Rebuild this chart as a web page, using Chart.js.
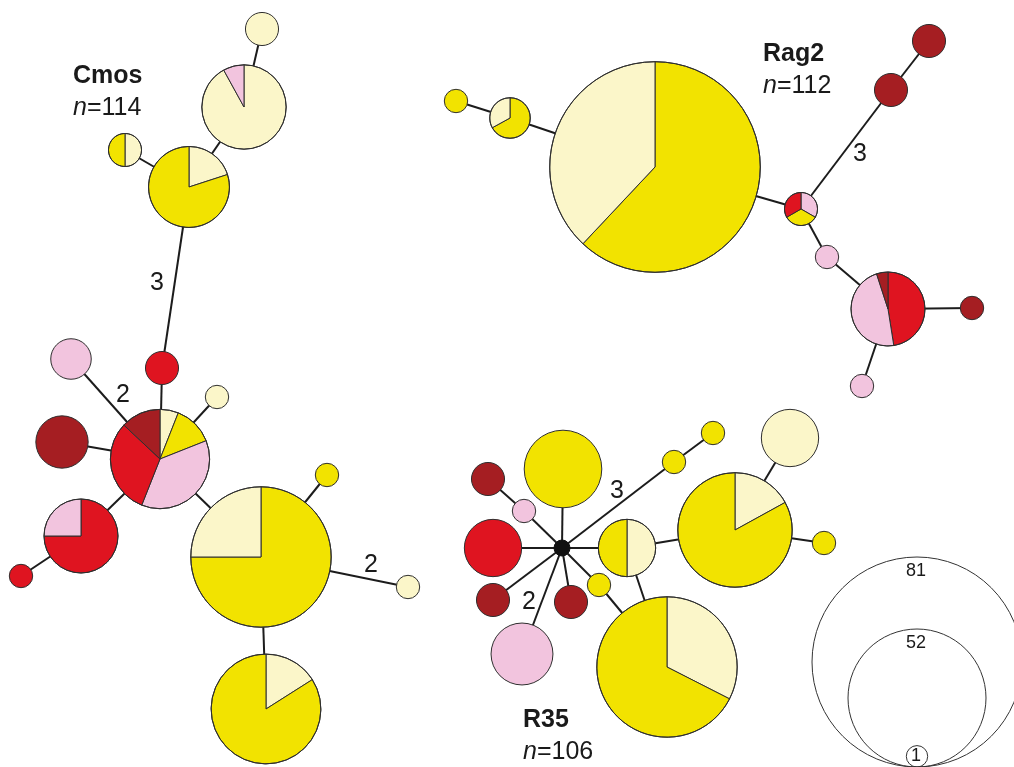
<!DOCTYPE html>
<html>
<head>
<meta charset="utf-8">
<script src="https://cdn.jsdelivr.net/npm/chart.js@4.4.1/dist/chart.umd.min.js"></script>
<style>
  html, body { margin: 0; padding: 0; background: #fff; }
  #wrap { width: 1014px; height: 767px; position: relative; }
</style>
</head>
<body>
<div id="wrap"><canvas id="net"></canvas></div>
<script>
// --- Data ---

// Slice colours per haplogroup (MV = median vector)
const groupColors = { Y: '#f2e300', LY: '#fbf6c9', P: '#f2c4de', R: '#df1420', DR: '#a51e22', MV: '#111111' };

// Cmos network: layout position, haplotype count, composition (% clockwise from 12 o'clock)
const cmosX = [262, 244, 125, 189, 162, 71, 217, 160, 62, 81, 21, 261, 327, 408, 266];
const cmosY = [29, 107, 150, 187, 368, 359, 397, 459, 442, 536, 576, 557, 475, 587, 709];
const cmosCount = [2, 13, 2, 12, 2, 3, 1, 18, 5, 10, 1, 36, 1, 1, 22];
const cmosMix = [
    [['LY', 100]],
    [['LY', 92], ['P', 8]],
    [['LY', 50], ['Y', 50]],
    [['LY', 20], ['Y', 80]],
    [['R', 100]],
    [['P', 100]],
    [['LY', 100]],
    [['LY', 6], ['Y', 13], ['P', 37], ['R', 31], ['DR', 13]],
    [['DR', 100]],
    [['R', 75], ['P', 25]],
    [['R', 100]],
    [['Y', 75], ['LY', 25]],
    [['Y', 100]],
    [['LY', 100]],
    [['LY', 16], ['Y', 84]]
];
const cmosEdges = [[0, 1], [1, 3], [2, 3], [3, 4], [4, 7], [5, 7], [6, 7], [8, 7], [9, 7], [10, 9], [7, 11], [11, 12], [11, 13], [11, 14]];

// Rag2 network
const rag2X = [456, 510, 655, 801, 891, 929, 827, 888, 972, 862];
const rag2Y = [101, 118, 167, 209, 90, 41, 257, 309, 308, 386];
const rag2Count = [1, 3, 81, 2, 2, 2, 1, 10, 1, 1];
const rag2Mix = [
    [['Y', 100]],
    [['Y', 67], ['LY', 33]],
    [['Y', 62], ['LY', 38]],
    [['P', 1], ['Y', 1], ['R', 1]],
    [['DR', 100]],
    [['DR', 100]],
    [['P', 100]],
    [['R', 47.5], ['P', 47.5], ['DR', 5]],
    [['DR', 100]],
    [['P', 100]]
];
const rag2Edges = [[0, 1], [1, 2], [2, 3], [3, 4], [4, 5], [3, 6], [6, 7], [7, 8], [7, 9]];

// R35 network (node 0 is a median vector)
const r35X = [562, 563, 488, 524, 493, 493, 571, 522, 674, 713, 627, 599, 735, 790, 824, 667];
const r35Y = [548, 469, 479, 511, 548, 600, 602, 654, 462, 433, 548, 585, 530, 438, 543, 667];
const r35Count = [0, 11, 2, 1, 6, 2, 2, 7, 1, 1, 6, 1, 24, 6, 1, 36];
const r35Mix = [
    [['MV', 100]],
    [['Y', 100]],
    [['DR', 100]],
    [['P', 100]],
    [['R', 100]],
    [['DR', 100]],
    [['DR', 100]],
    [['P', 100]],
    [['Y', 100]],
    [['Y', 100]],
    [['LY', 50], ['Y', 50]],
    [['Y', 100]],
    [['LY', 17], ['Y', 83]],
    [['LY', 100]],
    [['Y', 100]],
    [['LY', 32.5], ['Y', 67.5]]
];
const r35Edges = [[0, 1], [0, 3], [3, 2], [0, 4], [0, 5], [0, 7], [0, 6], [0, 11], [0, 10], [0, 8], [8, 9], [10, 12], [10, 15], [11, 15], [12, 13], [12, 14]];

// Mutation step labels on edges
const stepText = ['3', '2', '2', '3', '3', '2'];
const stepX = [157, 123, 371, 860, 617, 529];
const stepY = [283, 395, 565, 154, 491, 602];

// Titles
const titleNames = ['Cmos', 'Rag2', 'R35'];
const titleN = [114, 112, 106];
const titleX = [73, 763, 523];
const titleY = [83, 61, 727];

// Size key
const keyCounts = [81, 52, 1];

// --- Helpers ---

const EDGE = '#1c1c1c';
const OUTLINE = '#2e2e2e';
const FONT = '"Liberation Sans", Arial, Helvetica, sans-serif';

function radiusFor(n) {
    return n === 0 ? 8 : 11.7 * Math.sqrt(n);
}

function networkDatasets(xs, ys, counts, mixes, edges) {
    const sets = edges.map(([a, b]) => ({
        type: 'scatter',
        showLine: true,
        order: 10,
        clip: false,
        data: [{ x: xs[a], y: ys[a] }, { x: xs[b], y: ys[b] }],
        borderColor: EDGE,
        borderWidth: 2,
        pointRadius: 0
    }));
    sets.push({
        type: 'bubble',
        order: 0,
        clip: false,
        haplo: true,
        data: xs.map((x, i) => ({ x, y: ys[i], r: radiusFor(counts[i]), mix: mixes[i] })),
        backgroundColor: 'rgba(0,0,0,0)',
        borderWidth: 0
    });
    return sets;
}

function drawPie(ctx, cx, cy, r, mix) {
    const total = mix.reduce((s, m) => s + m[1], 0);
    const black = mix.length === 1 && mix[0][0] === 'MV';
    let a = -Math.PI / 2;
    ctx.lineWidth = 1;
    ctx.strokeStyle = black ? '#111' : OUTLINE;
    mix.forEach(([g, v]) => {
        const a2 = a + v / total * Math.PI * 2;
        ctx.beginPath();
        if (mix.length > 1) ctx.moveTo(cx, cy);
        ctx.arc(cx, cy, r, a, a2);
        ctx.closePath();
        ctx.fillStyle = groupColors[g];
        ctx.fill();
        if (mix.length > 1) ctx.stroke();
        a = a2;
    });
    ctx.beginPath();
    ctx.arc(cx, cy, r, 0, Math.PI * 2);
    ctx.stroke();
}

// --- Plugin: pies, labels, key ---

const haploPlugin = {
    id: 'haplo',
    afterDatasetsDraw(chart, args, opts) {
        const ctx = chart.ctx;
        const sx = chart.scales.x;
        const sy = chart.scales.y;
        ctx.save();

        chart.data.datasets.forEach((ds, di) => {
            if (!ds.haplo) return;
            const meta = chart.getDatasetMeta(di);
            meta.data.forEach((el, i) => {
                drawPie(ctx, el.x, el.y, el.options.radius, ds.data[i].mix);
            });
        });

        // step labels
        ctx.fillStyle = '#1a1a1a';
        ctx.textAlign = 'center';
        ctx.textBaseline = 'middle';
        ctx.font = '25px ' + FONT;
        stepText.forEach((t, i) => {
            ctx.fillText(t, sx.getPixelForValue(stepX[i]), sy.getPixelForValue(stepY[i]));
        });

        // titles
        ctx.textAlign = 'left';
        ctx.textBaseline = 'alphabetic';
        titleNames.forEach((name, i) => {
            const x = sx.getPixelForValue(titleX[i]);
            const y = sy.getPixelForValue(titleY[i]);
            ctx.font = 'bold 25px ' + FONT;
            ctx.fillText(name, x, y);
            ctx.font = 'italic 25px ' + FONT;
            ctx.fillText('n', x, y + opts.lineGap);
            const w = ctx.measureText('n').width;
            ctx.font = '25px ' + FONT;
            ctx.fillText('=' + titleN[i], x + w, y + opts.lineGap);
        });

        // size key: circles resting on a common point
        const bx = sx.getPixelForValue(opts.keyX);
        const by = sy.getPixelForValue(opts.keyY);
        ctx.strokeStyle = '#333';
        ctx.lineWidth = 1;
        ctx.font = '18px ' + FONT;
        ctx.textAlign = 'center';
        ctx.textBaseline = 'middle';
        keyCounts.forEach((c, i) => {
            const r = opts.keyRadii[i];
            ctx.beginPath();
            ctx.arc(bx, by - r, r, 0, Math.PI * 2);
            ctx.stroke();
            const ty = r > 20 ? by - 2 * r + 14 : by - r;
            ctx.fillText(String(c), bx - 1, ty);
        });

        ctx.restore();
    }
};

// --- Chart ---

const datasets = [
    ...networkDatasets(cmosX, cmosY, cmosCount, cmosMix, cmosEdges),
    ...networkDatasets(rag2X, rag2Y, rag2Count, rag2Mix, rag2Edges),
    ...networkDatasets(r35X, r35Y, r35Count, r35Mix, r35Edges)
];

new Chart(document.getElementById('net'), {
    type: 'bubble',
    data: { datasets },
    options: {
        responsive: true,
        maintainAspectRatio: false,
        animation: false,
        events: [],
        layout: { padding: 0, autoPadding: false },
        scales: {
            x: { type: 'linear', min: 0, max: 1014, display: false },
            y: { type: 'linear', min: 0, max: 767, reverse: true, display: false }
        },
        plugins: {
            legend: { display: false },
            tooltip: { enabled: false },
            haplo: { lineGap: 32, keyX: 917, keyY: 767, keyRadii: [105, 69, 10.7] }
        }
    },
    plugins: [haploPlugin]
});
</script>
</body>
</html>
